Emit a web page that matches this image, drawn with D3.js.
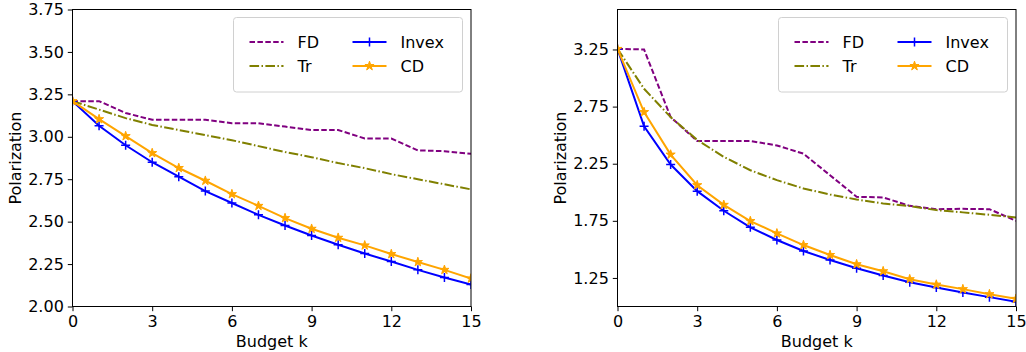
<!DOCTYPE html>
<html>
<head>
<meta charset="utf-8">
<script src="https://cdn.jsdelivr.net/npm/d3@7"></script>
<style>
  body { margin: 0; background: #fff; }
  svg { font-family: "DejaVu Sans", sans-serif; }
</style>
</head>
<body>
<div id="chart"></div>
<script>
// budget values on the x axis
const budgets = [0, 1, 2, 3, 4, 5, 6, 7, 8, 9, 10, 11, 12, 13, 14, 15];
const xTicks = [0, 3, 6, 9, 12, 15];

// left panel
const leftFD = [3.21, 3.21, 3.14, 3.10, 3.10, 3.10, 3.08, 3.08, 3.06, 3.04, 3.04, 2.99, 2.99, 2.92, 2.915, 2.90];
const leftTr = [3.21, 3.16, 3.11, 3.07, 3.04, 3.01, 2.98, 2.945, 2.91, 2.88, 2.845, 2.815, 2.78, 2.75, 2.72, 2.69];
const leftInvex = [3.21, 3.065, 2.95, 2.85, 2.765, 2.68, 2.61, 2.54, 2.477, 2.418, 2.364, 2.312, 2.265, 2.216, 2.171, 2.13];
const leftCD = [3.21, 3.104, 3.004, 2.904, 2.816, 2.741, 2.662, 2.593, 2.521, 2.458, 2.405, 2.36, 2.309, 2.262, 2.216, 2.165];
const leftYTicks = [2.0, 2.25, 2.5, 2.75, 3.0, 3.25, 3.5, 3.75];

// right panel
const rightFD = [3.255, 3.25, 2.658, 2.449, 2.449, 2.449, 2.41, 2.338, 2.149, 1.96, 1.955, 1.881, 1.852, 1.855, 1.852, 1.75];
const rightTr = [3.255, 2.906, 2.658, 2.458, 2.31, 2.193, 2.106, 2.033, 1.981, 1.937, 1.902, 1.879, 1.844, 1.824, 1.803, 1.78];
const rightInvex = [3.255, 2.577, 2.243, 2.01, 1.838, 1.693, 1.582, 1.486, 1.407, 1.335, 1.271, 1.213, 1.166, 1.122, 1.082, 1.041];
const rightCD = [3.255, 2.702, 2.33, 2.062, 1.89, 1.748, 1.64, 1.538, 1.451, 1.37, 1.309, 1.239, 1.192, 1.152, 1.108, 1.067];
const rightYTicks = [1.25, 1.75, 2.25, 2.75, 3.25];

const seriesNames = ["FD", "Tr", "Invex", "CD"];

const styles = {
  FD: { color: "#800080", dash: "5.5,2.4", marker: null },
  Tr: { color: "#808000", dash: "9.6,2.4,1.5,2.4", marker: null },
  Invex: { color: "#0000ff", dash: null, marker: "plus" },
  CD: { color: "#ffa500", dash: null, marker: "star" }
};

const svg = d3.select("#chart").append("svg")
  .attr("width", 1026)
  .attr("height", 352);

const starPath = d3.symbol().type(d3.symbolStar).size(26)();

function drawMarker(sel, type, color) {
  if (type === "plus") {
    sel.append("path")
      .attr("d", "M-4.5,0H4.5M0,-4.5V4.5")
      .attr("stroke", color)
      .attr("stroke-width", 1.5)
      .attr("fill", "none");
  } else if (type === "star") {
    sel.append("path")
      .attr("d", starPath)
      .attr("fill", color)
      .attr("stroke", color)
      .attr("stroke-width", 1);
  }
}

function drawPanel(id, left, yDomain, yTicks, series) {
  const top = 9.5, bottom = 306.5, width = 398.5;
  const height = bottom - top;

  const g = svg.append("g").attr("transform", `translate(${left},${top})`);

  const x = d3.scaleLinear().domain([0, 15]).range([0, width]);
  const y = d3.scaleLinear().domain(yDomain).range([height, 0]);

  g.append("clipPath").attr("id", "clip" + id)
    .append("rect").attr("width", width).attr("height", height);

  const plot = g.append("g").attr("clip-path", `url(#clip${id})`);

  const line = d3.line()
    .x((d, i) => x(budgets[i]))
    .y((d) => y(d));

  seriesNames.forEach((name) => {
    const st = styles[name];
    plot.append("path")
      .datum(series[name])
      .attr("fill", "none")
      .attr("stroke", st.color)
      .attr("stroke-width", 2)
      .attr("stroke-dasharray", st.dash)
      .attr("d", line);

    if (st.marker) {
      plot.selectAll(".m-" + name)
        .data(series[name])
        .enter()
        .append("g")
        .attr("class", "m-" + name)
        .attr("transform", (d, i) => `translate(${x(budgets[i])},${y(d)})`)
        .each(function () { drawMarker(d3.select(this), st.marker, st.color); });
    }
  });

  // axes
  const xAxis = g.append("g")
    .attr("transform", `translate(0,${height})`)
    .call(d3.axisBottom(x).tickValues(xTicks).tickSize(4.7).tickPadding(4).tickFormat(d3.format("d")));

  const yAxis = g.append("g")
    .call(d3.axisLeft(y).tickValues(yTicks).tickSize(4.7).tickPadding(4).tickFormat(d3.format(".2f")));

  [xAxis, yAxis].forEach((a) => {
    a.selectAll("text").attr("font-size", 16).attr("fill", "#000")
      .attr("font-family", "DejaVu Sans");
    a.selectAll("line").attr("stroke", "#000").attr("stroke-width", 1);
    a.select(".domain").remove();
  });

  // frame
  g.append("rect")
    .attr("width", width)
    .attr("height", height)
    .attr("fill", "none")
    .attr("stroke", "#000")
    .attr("stroke-width", 1);

  // axis labels
  g.append("text")
    .attr("x", width / 2)
    .attr("y", height + 40)
    .attr("text-anchor", "middle")
    .attr("font-size", 16)
    .text("Budget k");

  g.append("text")
    .attr("transform", `translate(${-52},${height / 2}) rotate(-90)`)
    .attr("text-anchor", "middle")
    .attr("font-size", 16)
    .text("Polarization");

  // legend
  const lg = g.append("g").attr("transform", `translate(${width - 237.5},8)`);
  lg.append("rect")
    .attr("width", 229)
    .attr("height", 74.5)
    .attr("rx", 3)
    .attr("fill", "#fff")
    .attr("fill-opacity", 0.8)
    .attr("stroke", "#d0d0d0")
    .attr("stroke-width", 1);

  const slots = [
    { name: "FD", x: 16, y: 24.5 },
    { name: "Tr", x: 16, y: 48.5 },
    { name: "Invex", x: 119, y: 24.5 },
    { name: "CD", x: 119, y: 48.5 }
  ];
  slots.forEach((s) => {
    const st = styles[s.name];
    const item = lg.append("g").attr("transform", `translate(${s.x},${s.y})`);
    item.append("line")
      .attr("x1", 0).attr("x2", 34)
      .attr("stroke", st.color)
      .attr("stroke-width", 2)
      .attr("stroke-dasharray", st.dash);
    if (st.marker) {
      const mk = item.append("g").attr("transform", "translate(17,0)");
      drawMarker(mk, st.marker, st.color);
    }
    item.append("text")
      .attr("x", 48)
      .attr("dy", "0.36em")
      .attr("font-size", 16)
      .text(s.name);
  });
}

drawPanel("L", 72.5, [2.0, 3.75], leftYTicks,
  { FD: leftFD, Tr: leftTr, Invex: leftInvex, CD: leftCD });
drawPanel("R", 617.5, [1.0, 3.6], rightYTicks,
  { FD: rightFD, Tr: rightTr, Invex: rightInvex, CD: rightCD });
</script>
</body>
</html>
